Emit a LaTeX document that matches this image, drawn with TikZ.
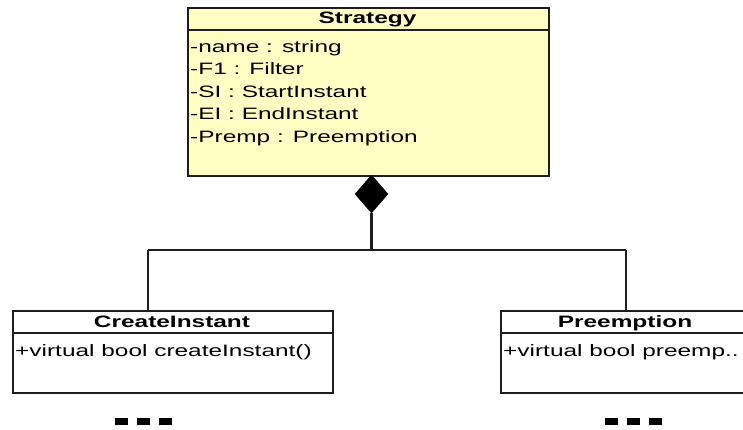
\documentclass[tikz,border=0pt]{standalone}
\usepackage{fontspec}
\setmainfont{Liberation Sans}[FakeStretch=1.48]
\usetikzlibrary{shapes.geometric}
\definecolor{umlyellow}{RGB}{255,255,196}
\definecolor{umlline}{RGB}{30,30,30}
\begin{document}
\begin{tikzpicture}[x=1pt,y=-1pt,
  classbox/.style={draw=umlline,line width=2pt,anchor=north west,inner sep=0pt},
  ctitle/.style={anchor=base,inner sep=0pt,font=\fontsize{16.5}{18}\selectfont\bfseries},
  attr/.style={anchor=base west,inner sep=0pt,font=\fontsize{16.5}{18}\selectfont},
  conn/.style={draw=umlline,line width=1.5pt},
  dotsq/.style={fill=black,draw=none}]
\useasboundingbox (0,0) rectangle (743,429);
\clip (0,0) rectangle (743,429);
% Strategy class
\node[classbox,fill=umlyellow,minimum width=361pt,minimum height=168pt] (strat) at (187,7) {};
\draw[umlline,line width=2pt] (187,30) -- (548,30);
\node[ctitle] (stratT) at (367.5,23.5) {Strategy};
\node[attr] (a1) at (190,52) {-name : string};
\node[attr] (a2) at (190,74.5) {-F1 : Filter};
\node[attr] (a3) at (190,97) {-SI : StartInstant};
\node[attr] (a4) at (190,119.5) {-EI : EndInstant};
\node[attr] (a5) at (190,142) {-Premp : Preemption};
% composition diamond
\node[diamond,fill=black,draw=black,inner sep=0pt,minimum width=33pt,minimum height=38pt] (dia) at (371.5,194) {};
\coordinate (j) at (371.5,250);
\coordinate (jl) at (148,250);
\coordinate (jr) at (626,250);
% CreateInstant class
\node[classbox,fill=white,minimum width=320pt,minimum height=82pt] (ci) at (12,310) {};
\draw[umlline,line width=2pt] (12,333) -- (332,333);
\node[ctitle] (ciT) at (172,327) {CreateInstant};
\node[attr] (ciM) at (15,356) {+virtual bool createInstant()};
% Preemption class
\node[classbox,fill=white,minimum width=300pt,minimum height=82pt] (pr) at (500,310) {};
\draw[umlline,line width=2pt] (500,333) -- (800,333);
\node[ctitle] (prT) at (625,327) {Preemption};
\node[attr] (prM) at (503,356) {+virtual bool preemp..};
% connectors
\draw[conn,line width=3pt] (dia.south) -- (j);
\draw[conn] (jl) -- (jr);
\draw[conn] (jl) -- (ci.north -| jl);
\draw[conn] (jr) -- (pr.north -| jr);
% ellipsis dots
\foreach \x in {115,137,159} \fill[black] (\x,418) rectangle ++(13,7);
\foreach \x in {605,627,649} \fill[black] (\x,418) rectangle ++(13,7);
\end{tikzpicture}
\end{document}
